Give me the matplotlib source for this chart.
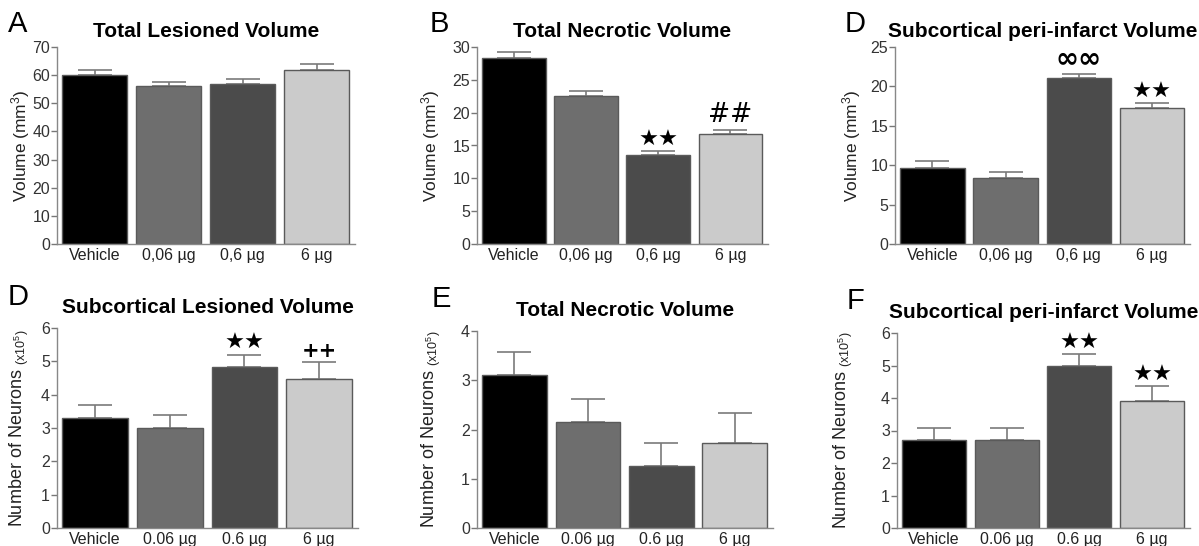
import matplotlib
matplotlib.use('Agg')
import matplotlib.pyplot as plt

plt.rcParams['font.family'] = ['Liberation Sans', 'DejaVu Sans']
plt.rcParams['mathtext.default'] = 'regular'

# groups
labels_top = ['Vehicle', '0,06 µg', '0,6 µg', '6 µg']
labels_bot = ['Vehicle', '0.06 µg', '0.6 µg', '6 µg']
bar_colors = ['#000000', '#6e6e6e', '#4b4b4b', '#cbcbcb']

# top row: volumes (mm3), mean and upper SEM
total_lesioned = [60.0, 56.0, 57.0, 62.0]
total_lesioned_err = [2.0, 1.7, 1.7, 2.0]
total_necrotic = [28.4, 22.6, 13.5, 16.7]
total_necrotic_err = [0.9, 0.7, 0.6, 0.7]
sub_periinfarct = [9.6, 8.4, 21.1, 17.3]
sub_periinfarct_err = [0.9, 0.7, 0.5, 0.6]

# bottom row: number of neurons (x10^5)
neu_sub_lesioned = [3.3, 3.0, 4.82, 4.48]
neu_sub_lesioned_err = [0.38, 0.38, 0.38, 0.5]
neu_total_necrotic = [3.1, 2.15, 1.25, 1.73]
neu_total_necrotic_err = [0.48, 0.47, 0.48, 0.6]
neu_sub_periinfarct = [2.7, 2.7, 4.97, 3.9]
neu_sub_periinfarct_err = [0.38, 0.38, 0.38, 0.47]

# significance marks
marks_B = ['', '', '★★', '##']
marks_Dtop = ['', '', '∞∞', '★★']
marks_Dbot = ['', '', '★★', '++']
marks_F = ['', '', '★★', '★★']

W, H = 1199, 546
fig = plt.figure(figsize=(W / 100, H / 100), dpi=100)


def px(left, top, right, bottom):
    return [left / W, 1 - bottom / H, (right - left) / W, (bottom - top) / H]


vol_label = 'Volume (mm$^3$)'
neu_label = 'Number of Neurons $_{(x10^5)}$'

panels = [
    # letter, letter pos, title, rect, values, errs, ylim, step, tick labels, ylabel, label x, marks, title pad
    ('A', (8, 32), 'Total Lesioned Volume', px(57, 47, 355, 244), total_lesioned, total_lesioned_err,
     70, 10, labels_top, vol_label, -0.085, None, 7),
    ('B', (430, 32), 'Total Necrotic Volume', px(477, 47, 768, 244), total_necrotic, total_necrotic_err,
     30, 5, labels_top, vol_label, -0.12, marks_B, 7),
    ('D', (845, 32), 'Subcortical peri-infarct Volume', px(895, 47, 1190, 244), sub_periinfarct,
     sub_periinfarct_err, 25, 5, labels_top, vol_label, -0.108, marks_Dtop, 7),
    ('D', (8, 305), 'Subcortical Lesioned Volume', px(57, 328, 358, 528), neu_sub_lesioned,
     neu_sub_lesioned_err, 6, 1, labels_bot, neu_label, -0.086, marks_Dbot, 11),
    ('E', (432, 307), 'Total Necrotic Volume', px(477, 331, 773, 528), neu_total_necrotic,
     neu_total_necrotic_err, 4, 1, labels_bot, neu_label, -0.115, None, 11),
    ('F', (847, 309), 'Subcortical peri-infarct Volume', px(897, 333, 1190, 528), neu_sub_periinfarct,
     neu_sub_periinfarct_err, 6, 1, labels_bot, neu_label, -0.143, marks_F, 11),
]

x = range(4)
for letter, lpos, title, rect, vals, errs, ymax, step, xl, ylab, labx, marks, tpad in panels:
    ax = fig.add_axes(rect)
    ax.bar(x, vals, width=0.88, color=bar_colors, edgecolor='#5a5a5a', linewidth=1.0, zorder=2)
    ax.errorbar(x, vals, yerr=[[0] * 4, errs], fmt='none', ecolor='#7a7a7a',
                elinewidth=1.2, capsize=12, capthick=1.2, zorder=1)
    ax.set_xlim(-0.51, 3.52)
    ax.set_ylim(0, ymax)
    ax.set_yticks(range(0, ymax + 1, step))
    ax.set_xticks(list(x))
    ax.set_xticklabels(xl, fontsize=11.5, color='#222222')
    ax.tick_params(axis='x', length=0, pad=3)
    ax.tick_params(axis='y', length=4, width=1, color='#777777', labelsize=11.5,
                   labelcolor='#333333', pad=1)
    for s in ['top', 'right']:
        ax.spines[s].set_visible(False)
    for s in ['left', 'bottom']:
        ax.spines[s].set_color('#888888')
        ax.spines[s].set_linewidth(1.0)
    ax.set_ylabel(ylab, fontsize=13 if ylab == neu_label else 12.5, color='#222222')
    ax.yaxis.set_label_coords(labx, 0.5)
    ax.set_title(title, fontsize=15, fontweight='bold', pad=tpad)
    fig.text(lpos[0] / W, 1 - lpos[1] / H, letter, fontsize=21, ha='left', va='baseline')

    if marks:
        for i, m in enumerate(marks):
            if not m:
                continue
            size = 16
            if m == '##':
                size = 19
            elif m == '∞∞':
                size = 20
            elif m == '++':
                size = 15
            ax.annotate(m, (i, vals[i] + errs[i]), xytext=(0, 1), textcoords='offset points',
                        ha='center', va='bottom', fontsize=size,
                        fontweight='bold' if m in ('++', '∞∞') else 'normal',
                        family=['DejaVu Sans'], annotation_clip=False)

fig.savefig('out.png', dpi=100)
